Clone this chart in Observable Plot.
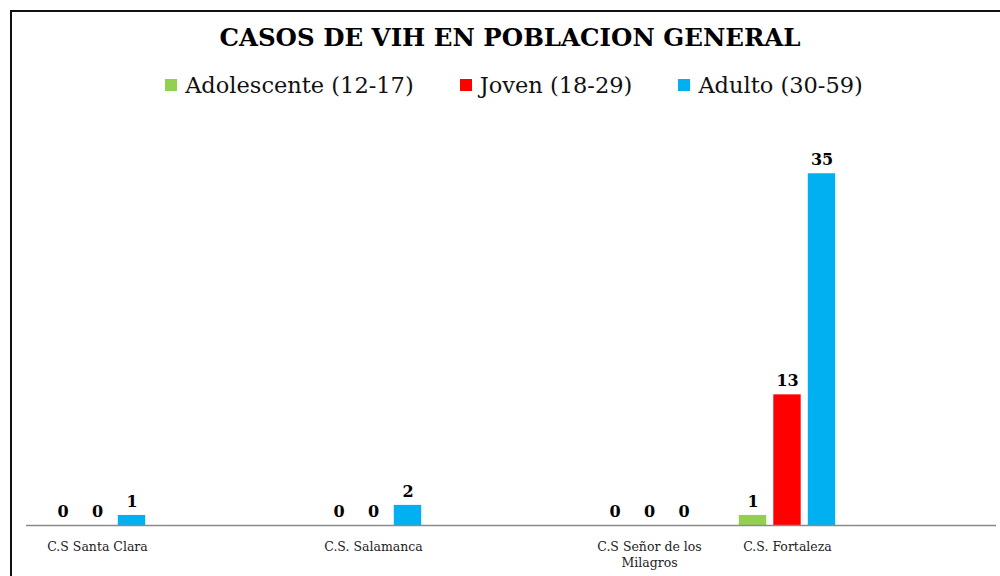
<!DOCTYPE html>
<html><head><meta charset="utf-8">
<script src="https://cdn.jsdelivr.net/npm/d3@7"></script>
<script src="https://cdn.jsdelivr.net/npm/@observablehq/plot@0.6"></script>
<style>
body{margin:0;background:#fff;font-family:"DejaVu Serif",serif;overflow:hidden;}
#frame{position:absolute;left:10px;top:10px;width:1000px;height:600px;border-left:2px solid #111;border-top:2px solid #111;pointer-events:none;}
#header{position:relative;height:120px;}
#title{position:absolute;top:22px;left:0;width:1020px;text-align:center;font-family:"DejaVu Serif",serif;font-weight:bold;font-size:24.5px;line-height:32px;color:#000;}
#legend{position:absolute;top:70px;left:0;width:1028px;display:flex;justify-content:center;gap:46px;font-family:"DejaVu Serif",serif;font-size:22.5px;line-height:30px;color:#111;}
.item{display:flex;align-items:center;gap:8px;}
.sw{width:12px;height:12px;display:inline-block;}
svg{display:block;}
</style></head>
<body>
<div id="frame"></div>
<div id="header"><div id="title">CASOS DE VIH EN POBLACION GENERAL</div><div id="legend"></div></div>
<div id="chart"></div>
<script>
const slots = ["C.S Santa Clara", "gap1", "C.S. Salamanca", "gap2", "C.S Señor de los Milagros", "C.S. Fortaleza", "gap3"];
const centers = ["C.S Santa Clara", "C.S. Salamanca", "C.S Señor de los Milagros", "C.S. Fortaleza"];
const adolescente = [0, 0, 0, 1];
const joven = [0, 0, 0, 13];
const adulto = [1, 2, 0, 35];
const series = ["Adolescente (12-17)", "Joven (18-29)", "Adulto (30-59)"];
const colors = ["#92D050", "#FF0000", "#00B0F0"];
const tickLabels = {"C.S Señor de los Milagros": "C.S Señor de los\nMilagros"};

const valuesBySeries = [adolescente, joven, adulto];
const offsets = [-34.5, 0, 34.5];

const legend = document.getElementById("legend");
series.forEach((s, i) => {
  const it = document.createElement("div"); it.className = "item";
  it.innerHTML = `<span class="sw" style="background:${colors[i]}"></span><span>${s}</span>`;
  legend.appendChild(it);
});

const marks = [];
valuesBySeries.forEach((vals, i) => {
  const data = centers.map((c, j) => ({center: c, value: vals[j], series: series[i]}));
  marks.push(Plot.barY(data, {x: "center", y: "value", fill: colors[i], dx: offsets[i], insetLeft: 55.3, insetRight: 55.3}));
  marks.push(Plot.text(data, {x: "center", y: "value", text: d => String(d.value), dx: offsets[i], dy: -14, fontWeight: "bold", fontSize: 16, fill: "#000"}));
});
marks.push(Plot.ruleY([0], {stroke: "#8a8a8a", strokeWidth: 1.5}));
marks.push(Plot.axisX({tickSize: 0, tickPadding: 14, fontSize: 12.5, fill: "#222",
  tickFormat: d => d.startsWith("gap") ? "" : (tickLabels[d] || d), lineHeight: 1.3}));

const chart = Plot.plot({
  width: 1000, height: 456,
  marginLeft: 26, marginRight: 4, marginTop: 3, marginBottom: 51,
  style: {fontFamily: "DejaVu Serif", background: "transparent"},
  x: {domain: slots, padding: 0, label: null},
  y: {domain: [0, 40], axis: null},
  marks
});
document.getElementById("chart").appendChild(chart);
</script>
</body></html>
